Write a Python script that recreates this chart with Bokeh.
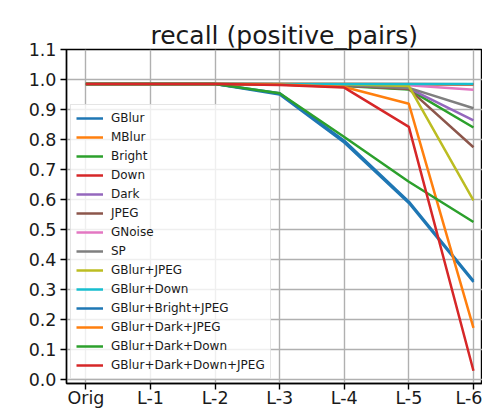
from bokeh.plotting import figure
from bokeh.models import Range1d, FixedTicker, Legend, LegendItem
from bokeh.embed import file_html
from bokeh.resources import INLINE

levels = ["Orig", "L-1", "L-2", "L-3", "L-4", "L-5", "L-6"]
y_ticks = [0.0, 0.1, 0.2, 0.3, 0.4, 0.5, 0.6, 0.7, 0.8, 0.9, 1.0, 1.1]

names = ["GBlur", "MBlur", "Bright", "Down", "Dark", "JPEG", "GNoise", "SP",
         "GBlur+JPEG", "GBlur+Down", "GBlur+Bright+JPEG", "GBlur+Dark+JPEG",
         "GBlur+Dark+Down", "GBlur+Dark+Down+JPEG"]

gblur = [0.985, 0.985, 0.985, 0.954, 0.796, 0.593, 0.329]
mblur = [0.985, 0.985, 0.985, 0.985, 0.985, 0.984, 0.983]
bright = [0.985, 0.985, 0.985, 0.983, 0.978, 0.967, 0.840]
down = [0.985, 0.985, 0.985, 0.985, 0.985, 0.985, 0.984]
dark = [0.985, 0.985, 0.985, 0.984, 0.980, 0.970, 0.864]
jpeg = [0.985, 0.985, 0.985, 0.984, 0.980, 0.968, 0.774]
gnoise = [0.985, 0.985, 0.985, 0.985, 0.984, 0.981, 0.966]
sp = [0.985, 0.985, 0.985, 0.984, 0.982, 0.972, 0.904]
gblur_jpeg = [0.985, 0.985, 0.985, 0.985, 0.984, 0.978, 0.597]
gblur_down = [0.985, 0.985, 0.985, 0.985, 0.985, 0.985, 0.985]
gblur_bright_jpeg = [0.985, 0.985, 0.985, 0.950, 0.790, 0.588, 0.325]
gblur_dark_jpeg = [0.985, 0.985, 0.985, 0.983, 0.975, 0.919, 0.172]
gblur_dark_down = [0.985, 0.985, 0.985, 0.954, 0.808, 0.659, 0.525]
gblur_dark_down_jpeg = [0.985, 0.985, 0.985, 0.982, 0.973, 0.842, 0.029]

series = [gblur, mblur, bright, down, dark, jpeg, gnoise, sp, gblur_jpeg,
          gblur_down, gblur_bright_jpeg, gblur_dark_jpeg, gblur_dark_down,
          gblur_dark_down_jpeg]

colors = ["#1f77b4", "#ff7f0e", "#2ca02c", "#d62728", "#9467bd", "#8c564b",
          "#e377c2", "#7f7f7f", "#bcbd22", "#17becf"]

FONT = "DejaVu Sans"

p = figure(width=482, height=410, output_backend="svg", toolbar_location=None,
           x_range=Range1d(-0.3, 6.14), y_range=Range1d(-0.0135, 1.1),
           min_border_left=66, min_border_top=49, min_border_right=0,
           min_border_bottom=0)

p.title.text = "recall (positive_pairs)"
p.title.text_font = FONT
p.title.text_font_size = "25px"
p.title.text_font_style = "normal"
p.title.text_color = "#1a1a1a"
p.title.align = "left"
p.title.offset = 84
p.title.standoff = 0

xs = list(range(len(levels)))
items = []
for i, (name, ys) in enumerate(zip(names, series)):
    r = p.line(xs, ys, line_color=colors[i % 10], line_width=2.5)
    items.append(LegendItem(label=name, renderers=[r]))

for ax in (p.xaxis[0], p.yaxis[0]):
    ax.axis_line_color = "black"
    ax.axis_line_width = 1.4
    ax.major_tick_line_color = "black"
    ax.major_tick_line_width = 1.4
    ax.major_tick_out = 6
    ax.major_tick_in = 0
    ax.minor_tick_line_color = None
    ax.major_label_text_font = FONT
    ax.major_label_text_font_size = "17.5px"
    ax.major_label_text_color = "#1a1a1a"
    ax.axis_label_standoff = 0

p.xaxis[0].ticker = FixedTicker(ticks=xs)
p.xaxis[0].major_label_overrides = {i: lab for i, lab in enumerate(levels)}
p.xaxis[0].major_label_standoff = -2
p.yaxis[0].ticker = FixedTicker(ticks=y_ticks)
p.yaxis[0].major_label_overrides = {t: f"{t:.1f}" for t in y_ticks}
p.yaxis[0].major_label_standoff = 4

p.xgrid.grid_line_color = "#b0b0b0"
p.ygrid.grid_line_color = "#b0b0b0"
p.xgrid.grid_line_width = 1.4
p.ygrid.grid_line_width = 1.4
p.xgrid.ticker = FixedTicker(ticks=xs)
p.ygrid.ticker = FixedTicker(ticks=y_ticks)

p.outline_line_color = "black"
p.outline_line_width = 1.4
p.background_fill_color = "white"
p.border_fill_color = "white"

legend = Legend(items=items, location=(4, 4))
legend.label_text_font = FONT
legend.label_text_font_size = "12px"
legend.label_text_color = "#1a1a1a"
legend.glyph_width = 27
legend.glyph_height = 16
legend.label_height = 16
legend.spacing = 3
legend.padding = 5
legend.margin = 0
legend.label_standoff = 8
legend.border_line_color = "#cccccc"
legend.border_line_width = 1
legend.background_fill_color = "white"
legend.background_fill_alpha = 0.8
p.add_layout(legend, "center")

open("out.html", "w").write(file_html(p, INLINE))
